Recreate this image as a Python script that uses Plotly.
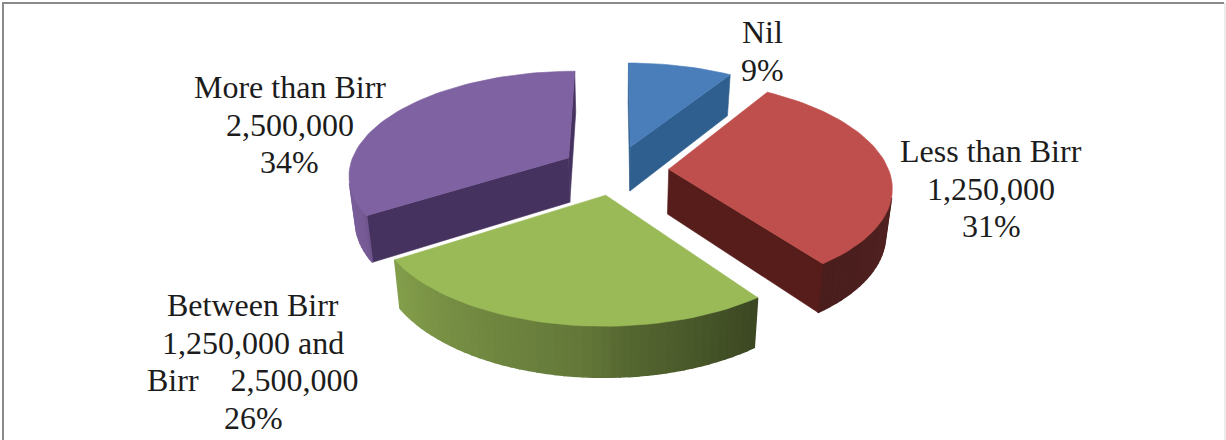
import math
import numpy as np
import plotly.graph_objects as go

# ---- data ----
categories = ["Nil", "Less than Birr<br>1,250,000", "Between Birr<br>1,250,000 and<br>Birr\u00a0\u00a0\u00a0\u00a02,500,000", "More than Birr<br>2,500,000"]
percent = [9, 31, 26, 34]

# ---- style ----
top_colors = ["#4a7ebb", "#bf4f4c", "#9aba58", "#7f62a1"]
cut_colors = ["#2f5f8e", "#571d1b", "#4d6a2a", "#46325f"]
explode = [0.24, 0.24, 0.24, 0.25]
label_x = [762, 991, 253, 289.5]
label_y0 = [32, 151, 305, 87]
LINE_H = 37.6
W, H = 1226, 440
CX, CY = 616, 170      # pie centre on the page
RX, RY = 220, 103      # radii of the disc
PERSP = 0.15           # perspective strength in depth
DEPTH = 47
TAPER = 0.976


def project(u, v, bottom=False):
    s = 1 / (1 - PERSP * v)
    x = RX * u * s
    y = RY * v * s
    if bottom:
        x *= TAPER
        y += DEPTH * (0.38 + 0.575 * s)
    return CX + x, CY + y


def arc_shade(theta):
    return float(np.interp(theta, [90, 144, 176, 184, 215, 237, 241, 270, 360],
                           [0.45, 0.38, 0.56, 0.64, 0.76, 0.85, 0.93, 0.98, 1.0]))


def shade(hexcol, f):
    r, g, b = (int(hexcol[i:i + 2], 16) for i in (1, 3, 5))
    return f"rgb({r * f:.0f},{g * f:.0f},{b * f:.0f})"


def quad(fig, pts, col, width=0.6):
    xs = [p[0] for p in pts] + [pts[0][0]]
    ys = [p[1] for p in pts] + [pts[0][1]]
    fig.add_trace(go.Scatter(x=xs, y=ys, mode="lines", fill="toself", fillcolor=col,
                             line=dict(color=col, width=width), hoverinfo="skip", showlegend=False))


def area(pts):
    return 0.5 * sum(pts[i][0] * pts[(i + 1) % len(pts)][1] - pts[(i + 1) % len(pts)][0] * pts[i][1]
                     for i in range(len(pts)))


fig = go.Figure()

# slice geometry comes from the percentages, clockwise from 12 o'clock
bounds = np.cumsum([0] + percent) * 3.6
slices = []
for i, pct in enumerate(percent):
    a0, a1 = bounds[i], bounds[i + 1]
    mid = math.radians((a0 + a1) / 2)
    ox, oy = explode[i] * math.sin(mid), -explode[i] * math.cos(mid)
    slices.append((i, a0, a1, ox, oy))

# painter's order: back to front
for i, a0, a1, ox, oy in sorted(slices, key=lambda s: s[4]):
    col = top_colors[i]
    thetas = np.linspace(a0, a1, max(int(a1 - a0) // 2, 8) + 1)
    rim = [(ox + math.sin(math.radians(t)), oy - math.cos(math.radians(t))) for t in thetas]
    outline = [(ox, oy)] + rim
    top = [project(*p) for p in outline]
    bot = [project(*p, bottom=True) for p in outline]
    n = len(outline)
    # side walls: keep only those that face the viewer
    for k in range(n):
        j = (k + 1) % n
        wall = [top[k], top[j], bot[j], bot[k]]
        if area(wall) >= 0:
            continue
        if k == 0 or k == n - 1:
            quad(fig, wall, cut_colors[i])
        else:
            quad(fig, wall, shade(col, arc_shade((thetas[k - 1] + thetas[k]) / 2)), width=1.6)
    quad(fig, top, col)

# labels
for cat, pct, lx, ly in zip(categories, percent, label_x, label_y0):
    for m, line in enumerate(cat.split("<br>") + [f"{pct}%"]):
        fig.add_annotation(x=lx, y=ly + m * LINE_H, xref="x", yref="y", text=line, showarrow=False,
                           align="center", xanchor="center", yanchor="middle",
                           font=dict(family="Liberation Serif", size=32, color="#1c1c1c"))

# chart frame
for x0, y0, x1, y1, c, w in [(2, 3, 1224, 3, "#8a8a8a", 2), (3, 3, 3, 440, "#8a8a8a", 2),
                             (1225, 3, 1225, 440, "#d8d8d8", 1)]:
    fig.add_shape(type="line", x0=x0, y0=y0, x1=x1, y1=y1, xref="x", yref="y",
                  line=dict(color=c, width=w), layer="above")

fig.update_xaxes(range=[0, W], visible=False, fixedrange=True)
fig.update_yaxes(range=[H, 0], visible=False, fixedrange=True)
fig.update_layout(width=W, height=H, margin=dict(l=0, r=0, t=0, b=0), showlegend=False,
                  paper_bgcolor="white", plot_bgcolor="white")
fig.write_html("out.html", config=dict(displayModeBar=False),
               post_script="document.body.style.margin='0';document.documentElement.style.overflow='hidden';")
